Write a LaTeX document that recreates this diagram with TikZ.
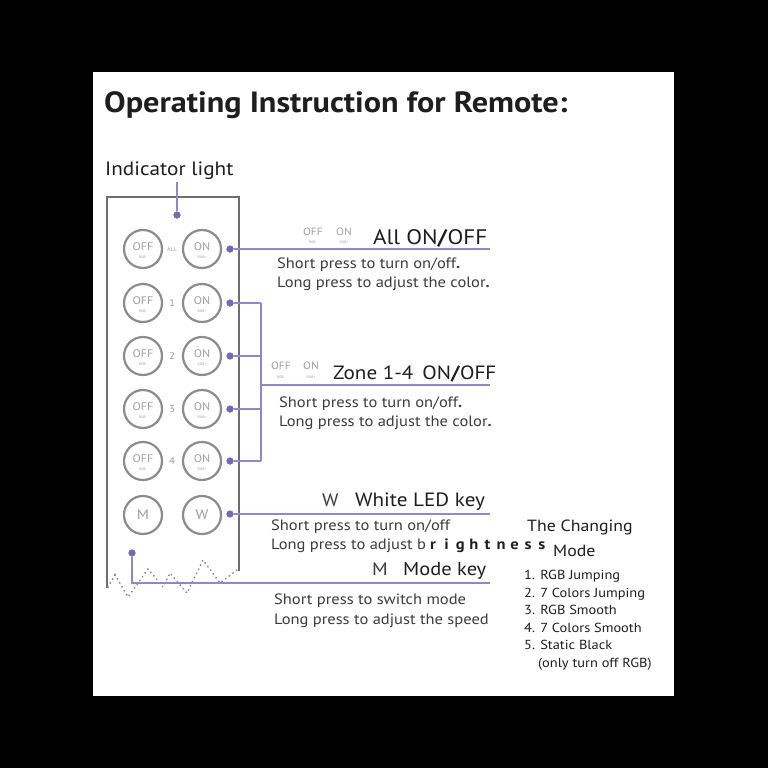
\documentclass[tikz,border=0pt]{standalone}
\usepackage{fontspec}
\setmainfont{PT Sans}[FakeStretch=1.1]
\definecolor{pur}{HTML}{9088CC}
\definecolor{purdot}{HTML}{7468B8}
\definecolor{btng}{HTML}{8C8C8C}
\definecolor{frameg}{HTML}{6E6E6E}
\definecolor{txt}{HTML}{3C3C3C}
\definecolor{head}{HTML}{1E1E1E}
\definecolor{lightg}{HTML}{A0A0A0}
\newcommand{\fs}[1]{\fontsize{#1}{#1}\selectfont}
\newcommand{\bl}[1]{\makebox[13.6pt][c]{#1}}
\tikzset{
  btn/.style={circle, draw=btng, line width=2.2pt, minimum size=38pt, inner sep=0pt},
  btntop/.style={font=\fs{11}, text=lightg, inner sep=0pt},
  btnsub/.style={font=\fs{3.5}, text=lightg, inner sep=0pt},
  midlab/.style={font=\fs{10}, text=lightg, inner sep=0pt},
  pdot/.style={circle, fill=purdot, minimum size=7pt, inner sep=0pt},
  pline/.style={draw=pur, line width=1.6pt},
  bodytxt/.style={anchor=base west, font=\fs{15}, text=txt, inner sep=0pt},
  headtxt/.style={anchor=base west, font=\fs{19.2}, text=head, inner sep=0pt},
  keytxt/.style={anchor=base west, font=\fs{18}, text=txt, inner sep=0pt},
  listtxt/.style={anchor=base west, font=\fs{13.1}, text=head, inner sep=0pt},
  icontop/.style={font=\fs{10.5}, text=lightg, inner sep=0pt},
  iconsub/.style={font=\fs{3.5}, text=lightg, inner sep=0pt}
}
\begin{document}
\begin{tikzpicture}[x=1pt,y=-1pt]
\useasboundingbox (0,0) rectangle (768,768);
\fill[black] (0,0) rectangle (768,768);
\fill[white] (93,72) rectangle (674,696);

% title
\node[anchor=base west, font=\bfseries\fs{29.3}, text=head, inner sep=0pt] (title) at (104,112) {Operating Instruction for Remote:};
\node[anchor=base west, font=\fs{19.3}, text=head, inner sep=0pt] (indlab) at (105,175) {Indicator light};

% remote frame
\draw[frameg, line width=2.2pt] (107,588) -- (107,197) -- (239,197) -- (239,571);
\draw[lightg!85!black, line width=2pt, dash pattern=on 0.1pt off 4.5pt, line cap=round] (108,587) -- (115,575) -- (128,597) -- (148,569) -- (163,587) -- (170,573) -- (187,593) -- (203,560) -- (220,583) -- (237,570);

% indicator
\coordinate (indtop) at (177,182);
\node[pdot] (dind) at (177,215) {};
\draw[pline] (indtop) -- (dind);

% buttons
\foreach \n/\y/\lab in {a/249/,1/303/1,2/356/2,3/409/3,4/461/4} {
  \node[btn] (off\n) at (143,\y) {};
  \node[btntop] at (143,\y-2) {OFF};
  \node[btnsub] at (143,\y+8) {RGB-};
  \node[btn] (on\n) at (202,\y) {};
  \node[btntop] at (202,\y-2) {ON};
  \node[btnsub] at (202,\y+8) {RGB+};
  \node[midlab] (mid\n) at (172,\y) {\lab};
  \node[pdot] (d\n) at (230,\y) {};
}
\node[font=\fs{5.5}, text=lightg, inner sep=0pt] (allab) at (172,250) {ALL};
\node[btn] (mbtn) at (143,515) {};
\node[font=\fs{14}, text=lightg] at (143,515) {M};
\node[btn] (wbtn) at (202,515) {};
\node[font=\fs{14}, text=lightg] at (202,515) {W};
\node[pdot] (dw) at (230,514) {};
\node[pdot] (dm) at (132,553) {};

% connectors
\coordinate (ea) at (490,249);
\draw[pline] (da) -- (ea);
\foreach \n/\y in {1/303,2/356,3/409,4/461} {
  \coordinate (b\n) at (261,\y);
  \draw[pline] (d\n) -- (b\n);
}
\draw[pline] (b1) -- (b4);
\coordinate (bz) at (261,385);
\coordinate (ez) at (490,385);
\draw[pline] (bz) -- (ez);
\coordinate (ew) at (490,514);
\draw[pline] (dw) -- (ew);
\coordinate (cm) at (132,583);
\coordinate (em) at (490,583);
\draw[pline] (dm) -- (cm) -- (em);
\node[pdot] at (dm) {};
\foreach \n in {a,1,2,3,4} { \node[pdot] at (d\n) {}; }
\node[pdot] at (dw) {};
\node[pdot] at (dind) {};

% All ON/OFF
\node[icontop] (i1off) at (313,232) {OFF};
\node[iconsub] at (313,242) {RGB-};
\node[icontop] (i1on) at (344,232) {ON};
\node[iconsub] at (344,242) {RGB+};
\node[headtxt, font=\fs{21}] (allh) at (373,244) {All ON\textbf{/}OFF};
\node[bodytxt] (s1) at (277,268) {Short press to turn on/off\textbf{.}};
\node[bodytxt] (l1) at (277,287) {Long press to adjust the color\textbf{.}};

% Zone
\node[icontop] (i2off) at (281,366) {OFF};
\node[iconsub] at (281,377) {RGB-};
\node[icontop] (i2on) at (311,366) {ON};
\node[iconsub] at (311,377) {RGB+};
\node[headtxt] (zoneh) at (333,379) {Zone 1-4\, ON\textbf{/}OFF};
\node[bodytxt] (s2) at (279,407) {Short press to turn on/off\textbf{.}};
\node[bodytxt] (l2) at (279,426) {Long press to adjust the color\textbf{.}};

% White LED
\node[keytxt] (wk) at (322,506) {W};
\node[headtxt] (wh) at (355,506) {White LED key};
\node[bodytxt] (s3) at (271,530) {Short press to turn on/off};
\node[bodytxt] (l3) at (271,549) {Long press to adjust b};
\node[anchor=base west, font=\bfseries\fs{15}, text=head, inner sep=0pt] (bright) at (426,549) {\bl{r}\bl{i}\bl{g}\bl{h}\bl{t}\bl{n}\bl{e}\bl{s}\bl{s}};

% Mode key
\node[keytxt] (mk) at (372,575) {M};
\node[headtxt, font=\fs{18.6}] (mh) at (403,575) {Mode key};
\node[bodytxt] (s4) at (274,604) {Short press to switch mode};
\node[bodytxt] (l4) at (274,624) {Long press to adjust the speed};

% Changing mode
\node[anchor=base west, font=\fs{16.2}, text=head, inner sep=0pt] (ch1) at (527,531) {The Changing};
\node[anchor=base west, font=\fs{16.2}, text=head, inner sep=0pt] (ch2) at (553,556) {Mode};
\node[listtxt] at (524,579) {1. RGB Jumping};
\node[listtxt] at (524,597) {2. 7 Colors Jumping};
\node[listtxt] at (524,614) {3. RGB Smooth};
\node[listtxt] at (524,632) {4. 7 Colors Smooth};
\node[listtxt] at (524,649) {5. Static Black};
\node[listtxt] at (538,667) {(only turn off RGB)};
\end{tikzpicture}
\end{document}
